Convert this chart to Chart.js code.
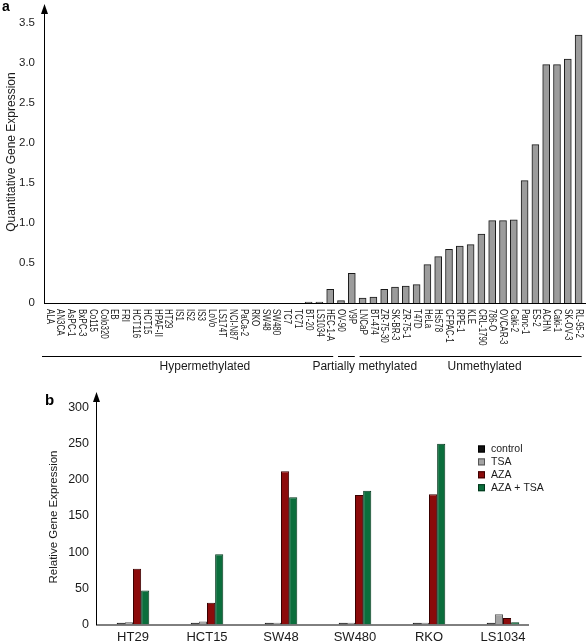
<!DOCTYPE html>
<html>
<head>
<meta charset="utf-8">
<title>Gene expression by methylation status</title>
<script src="https://cdn.jsdelivr.net/npm/chart.js@4.4.1/dist/chart.umd.min.js"></script>
<style>
  html, body { margin: 0; padding: 0; background: #fff; }
  canvas { position: absolute; left: 0; }
  #chartA { top: 0; }
  #chartB { top: 380px; }
</style>
</head>
<body>
<canvas id="chartA" width="586" height="385"></canvas>
<canvas id="chartB" width="586" height="262"></canvas>
<script>
  // panel a - quantitative expression per cell line
  var cellLines = ['ALA', 'AN3CA', 'AsPC-1', 'BxPC-3', 'Co115', 'Colo320', 'EB', 'FRI', 'HCT116', 'HCT15',
    'HPAF-II', 'HT29', 'IS1', 'IS2', 'IS3', 'LoVo', 'LS174T', 'NCI-N87', 'PaCa-2', 'RKO',
    'SW48', 'SW480', 'TC7', 'TC71', 'BT-20', 'LS1034', 'HEC-1-A', 'OV-90', 'V9P', 'LNCaP',
    'BT-474', 'ZR-75-30', 'SK-BR-3', 'ZR-75-1', 'T47D', 'HeLa', 'Hs578', 'CFPAC-1', 'RPE-1', 'KLE',
    'CRL-1790', '786-O', 'OVCAR-3', 'Caki-2', 'Panc-1', 'ES-2', 'ACHN', 'Caki-1', 'SK-OV-3', 'RL-95-2'];
  var quantExpr = [0, 0, 0, 0, 0, 0, 0, 0, 0, 0,
    0, 0, 0, 0, 0, 0, 0, 0, 0, 0,
    0, 0, 0, 0, 0.01, 0.01, 0.17, 0.03, 0.37, 0.06,
    0.075, 0.17, 0.2, 0.21, 0.23, 0.48, 0.58, 0.67, 0.71, 0.73,
    0.86, 1.03, 1.03, 1.04, 1.53, 1.98, 2.98, 2.98, 3.05, 3.35];
  var methylGroups = ['Hypermethylated', 'Partially methylated', 'Unmethylated'];
  var groupStart = [0, 27, 29];
  var groupEnd = [26, 28, 49];

  // panel b - relative expression after treatment
  var treatedLines = ['HT29', 'HCT15', 'SW48', 'SW480', 'RKO', 'LS1034'];
  var treatments = ['control', 'TSA', 'AZA', 'AZA + TSA'];
  var controlVals = [2.5, 2.5, 2.5, 2.5, 2.5, 2.5];
  var tsaVals = [3, 4, 2.5, 2.5, 2.5, 14];
  var azaVals = [77, 30, 212, 179, 180, 9];
  var azaTsaVals = [47, 97, 176, 185, 250, 3];

  var FONT = '"Liberation Sans", Arial, sans-serif';
  var TEXT = '#1a1a1a';

  function arrowUp(ctx, x, tipY) {
    ctx.beginPath();
    ctx.moveTo(x, tipY);
    ctx.lineTo(x - 3.5, tipY + 10);
    ctx.lineTo(x + 3.5, tipY + 10);
    ctx.closePath();
    ctx.fill();
  }

  function verticalTitle(ctx, text, cx, cy, size) {
    ctx.save();
    ctx.translate(cx, cy);
    ctx.rotate(-Math.PI / 2);
    ctx.font = size + 'px ' + FONT;
    ctx.textAlign = 'center';
    ctx.textBaseline = 'middle';
    ctx.fillText(text, 0, 0);
    ctx.restore();
  }

  var panelADecor = {
    id: 'panelADecor',
    afterDatasetsDraw: function (chart) {
      var ctx = chart.ctx, area = chart.chartArea, x = chart.scales.x;
      ctx.save();
      ctx.strokeStyle = '#000';
      ctx.fillStyle = '#000';
      ctx.lineWidth = 1;
      ctx.beginPath();
      ctx.moveTo(area.left + 0.5, area.bottom + 0.5);
      ctx.lineTo(area.left + 0.5, 12);
      ctx.moveTo(area.left, area.bottom + 0.5);
      ctx.lineTo(chart.width, area.bottom + 0.5);
      ctx.stroke();
      arrowUp(ctx, area.left + 0.5, 4);

      ctx.font = 'bold 14px ' + FONT;
      ctx.textAlign = 'left';
      ctx.textBaseline = 'alphabetic';
      ctx.fillText('a', 2, 11);

      ctx.fillStyle = TEXT;
      verticalTitle(ctx, 'Quantitative Gene Expression', 12, 152, 12);

      // cell line names, reading downward
      ctx.font = '10px ' + FONT;
      ctx.textAlign = 'left';
      ctx.textBaseline = 'middle';
      cellLines.forEach(function (name, i) {
        ctx.save();
        ctx.translate(x.getPixelForValue(i), area.bottom + 6);
        ctx.rotate(Math.PI / 2);
        ctx.scale(0.8, 1);
        ctx.fillText(name, 0, 0);
        ctx.restore();
      });

      // methylation group brackets
      var lineY = 356.5;
      ctx.strokeStyle = '#000';
      ctx.beginPath();
      methylGroups.forEach(function (g, k) {
        var x1 = k === 0 ? area.left - 2 : x.getPixelForValue(groupStart[k]) - 3;
        var x2 = x.getPixelForValue(groupEnd[k]) + 3;
        ctx.moveTo(x1, lineY);
        ctx.lineTo(x2, lineY);
      });
      ctx.stroke();
      var labelAt = [14.4, 29.2, 40.3];
      ctx.font = '12px ' + FONT;
      ctx.textAlign = 'center';
      methylGroups.forEach(function (g, k) {
        ctx.fillText(g, x.getPixelForValue(labelAt[k]), 367);
      });
      ctx.restore();
    }
  };

  new Chart(document.getElementById('chartA'), {
    type: 'bar',
    data: {
      labels: cellLines,
      datasets: [{
        data: quantExpr,
        backgroundColor: '#9c9c9c',
        borderColor: '#1a1a1a',
        borderWidth: 1,
        barThickness: 7
      }]
    },
    options: {
      responsive: false,
      animation: false,
      layout: { padding: { left: 0, right: 2, top: 23, bottom: 82 } },
      plugins: { legend: { display: false }, tooltip: { enabled: false } },
      scales: {
        x: { display: false },
        y: {
          min: 0,
          max: 3.5,
          afterFit: function (s) { s.width = 44; },
          grid: { display: false, drawTicks: false },
          border: { display: false },
          ticks: {
            stepSize: 0.5,
            padding: 9,
            color: TEXT,
            font: { family: FONT, size: 11.5 },
            callback: function (v) { return v === 0 ? '0' : v.toFixed(1); }
          }
        }
      }
    },
    plugins: [panelADecor]
  });

  var panelBDecor = {
    id: 'panelBDecor',
    afterDatasetsDraw: function (chart) {
      var ctx = chart.ctx, area = chart.chartArea;
      ctx.save();
      ctx.strokeStyle = '#000';
      ctx.fillStyle = '#000';
      ctx.lineWidth = 1;
      ctx.beginPath();
      ctx.moveTo(area.left + 0.5, area.bottom + 0.5);
      ctx.lineTo(area.left + 0.5, 20);
      ctx.moveTo(area.left, area.bottom + 0.5);
      ctx.lineTo(area.right - 11, area.bottom + 0.5);
      ctx.stroke();
      arrowUp(ctx, area.left + 0.5, 12);

      ctx.font = 'bold 15px ' + FONT;
      ctx.textAlign = 'left';
      ctx.textBaseline = 'alphabetic';
      ctx.fillText('b', 45, 25);

      ctx.fillStyle = TEXT;
      verticalTitle(ctx, 'Relative Gene Expression', 54, 137, 11.5);

      // legend
      ctx.font = '10.5px ' + FONT;
      ctx.textBaseline = 'middle';
      chart.data.datasets.forEach(function (ds, k) {
        var cy = 69 + k * 12.9;
        ctx.fillStyle = ds.backgroundColor;
        ctx.fillRect(478, cy - 3.5, 7, 7);
        ctx.strokeStyle = ds.borderColor;
        ctx.strokeRect(478.5, cy - 3, 6, 6);
        ctx.fillStyle = TEXT;
        ctx.fillText(ds.label, 491, cy);
      });
      ctx.restore();
    }
  };

  function treatmentSet(label, values, fill, edge) {
    return {
      label: label,
      data: values,
      backgroundColor: fill,
      borderColor: edge,
      borderWidth: 1,
      barPercentage: 1,
      categoryPercentage: 0.44
    };
  }

  new Chart(document.getElementById('chartB'), {
    type: 'bar',
    data: {
      labels: treatedLines,
      datasets: [
        treatmentSet(treatments[0], controlVals, '#111111', '#000000'),
        treatmentSet(treatments[1], tsaVals, '#a3a3a3', '#555555'),
        treatmentSet(treatments[2], azaVals, '#8c0b0b', '#3a0000'),
        treatmentSet(treatments[3], azaTsaVals, '#0b6e3c', '#02351b')
      ]
    },
    options: {
      responsive: false,
      animation: false,
      layout: { padding: { left: 0, right: 46, top: 27.5, bottom: 0 } },
      plugins: { legend: { display: false }, tooltip: { enabled: false } },
      scales: {
        x: {
          afterFit: function (s) { s.height = 17.5; },
          grid: { display: false, drawTicks: false },
          border: { display: false },
          ticks: { padding: 5, color: TEXT, font: { family: FONT, size: 13 } }
        },
        y: {
          min: 0,
          max: 300,
          afterFit: function (s) { s.width = 96; },
          grid: { display: false, drawTicks: false },
          border: { display: false },
          ticks: { stepSize: 50, padding: 7, color: TEXT, font: { family: FONT, size: 12.5 } }
        }
      }
    },
    plugins: [panelBDecor]
  });
</script>
</body>
</html>
